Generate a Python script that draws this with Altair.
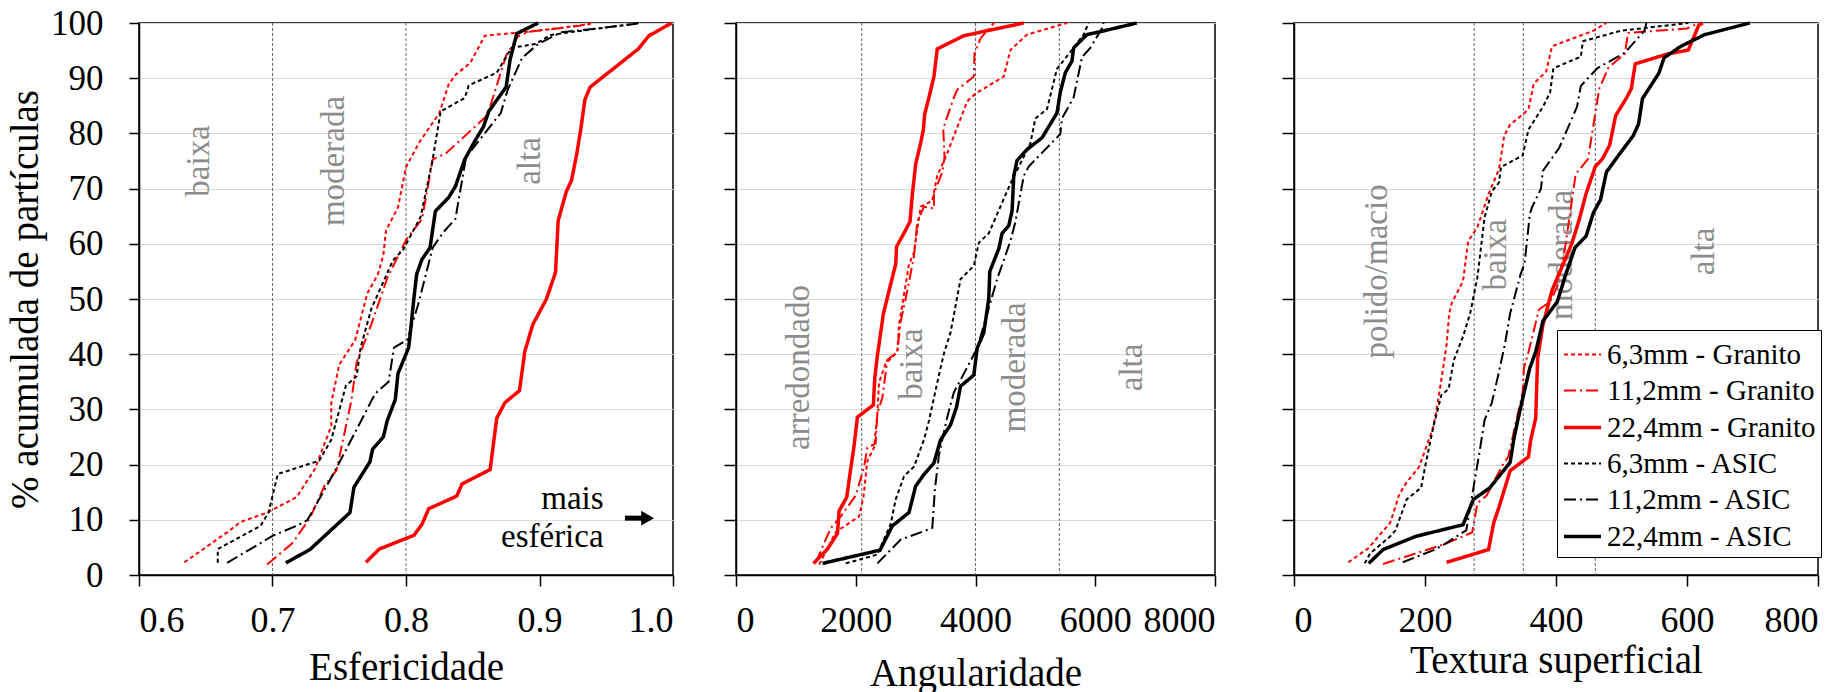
import altair as alt
import pandas as pd

FONT = "Liberation Serif"

SERIES = ["6,3mm - Granito", "11,2mm - Granito", "22,4mm - Granito",
          "6,3mm - ASIC", "11,2mm - ASIC", "22,4mm - ASIC"]
COLORS = ["#ff0000", "#ff0000", "#ff0000", "#000000", "#000000", "#000000"]
DASHES = [[4, 3], [12, 4, 2, 4], [1, 0], [4, 3], [12, 4, 2, 4], [1, 0]]
WIDTHS = [2, 2, 3.5, 2, 2, 3.5]

Y_TICKS = [0, 10, 20, 30, 40, 50, 60, 70, 80, 90, 100]

# ---------------- Esfericidade ----------------
esf_g63_x = [0.634, 0.667, 0.676, 0.696, 0.718, 0.732, 0.744, 0.744, 0.750, 0.762, 0.771, 0.779, 0.783, 0.785, 0.794, 0.800, 0.810, 0.825, 0.832, 0.837, 0.848, 0.859, 0.891, 0.935, 0.940]
esf_g63_y = [2.3, 7.9, 9.6, 11.3, 14.1, 19.3, 27.0, 31.2, 38.1, 42.6, 51.0, 54.5, 57.9, 62.4, 66.6, 73.9, 78.4, 83.7, 88.9, 90.6, 92.7, 97.7, 98.4, 99.7, 100]
esf_g112_x = [0.696, 0.715, 0.728, 0.739, 0.748, 0.759, 0.763, 0.774, 0.786, 0.800, 0.812, 0.820, 0.830, 0.861, 0.875, 0.884, 0.892, 0.930, 0.938]
esf_g112_y = [1.9, 5.8, 10.3, 16.2, 19.0, 31.5, 38.5, 45.4, 53.8, 60.7, 64.5, 75.3, 76.4, 83.3, 94.1, 97.6, 98.4, 99.5, 100]
esf_g224_x = [0.770, 0.780, 0.806, 0.812, 0.817, 0.838, 0.842, 0.863, 0.868, 0.874, 0.885, 0.889, 0.895, 0.905, 0.912, 0.914, 0.920, 0.924, 0.928, 0.931, 0.934, 0.938, 0.974, 0.982, 0.999]
esf_g224_y = [2.3, 4.7, 7.2, 9.2, 12.0, 14.3, 16.5, 19.1, 28.4, 31.2, 33.4, 40.5, 45.4, 49.9, 54.8, 64.2, 69.4, 71.5, 76.4, 80.9, 86.1, 88.4, 95.3, 97.7, 100]
esf_a63_x = [0.659, 0.659, 0.691, 0.697, 0.704, 0.735, 0.744, 0.755, 0.763, 0.766, 0.774, 0.790, 0.798, 0.811, 0.820, 0.826, 0.844, 0.847, 0.868, 0.879, 0.897, 0.908, 0.922, 0.975]
esf_a63_y = [2.2, 4.7, 8.9, 11.3, 18.3, 20.7, 24.5, 34.3, 36.0, 41.2, 48.2, 56.9, 59.0, 64.9, 75.3, 84.0, 86.4, 88.7, 91.0, 95.5, 96.2, 97.8, 98.3, 100]
esf_a112_x = [0.666, 0.701, 0.718, 0.726, 0.744, 0.762, 0.777, 0.787, 0.791, 0.801, 0.809, 0.820, 0.828, 0.837, 0.845, 0.856, 0.871, 0.876, 0.887, 0.899, 0.916, 0.943, 0.967, 0.975]
esf_a112_y = [2.2, 7.2, 8.9, 9.9, 17.6, 25.9, 32.9, 35.0, 41.2, 42.6, 48.9, 59.3, 62.1, 64.5, 75.7, 79.1, 83.7, 87.8, 93.7, 96.2, 98.3, 99.0, 99.7, 100]
esf_a224_x = [0.710, 0.728, 0.758, 0.761, 0.773, 0.775, 0.783, 0.786, 0.792, 0.794, 0.802, 0.803, 0.806, 0.808, 0.812, 0.818, 0.822, 0.832, 0.837, 0.844, 0.852, 0.858, 0.862, 0.875, 0.878, 0.883, 0.899]
esf_a224_y = [2.2, 4.6, 11.3, 15.9, 20.5, 22.8, 25.0, 28.0, 31.8, 36.5, 41.2, 43.3, 50.3, 54.5, 57.2, 59.3, 65.9, 68.4, 70.4, 75.3, 78.8, 81.2, 84.0, 88.4, 93.4, 98.1, 100]

# ---------------- Angularidade ----------------
ang_g63_x = [1389, 1667, 2056, 2128, 2194, 2306, 2361, 2389, 2500, 2694, 2722, 2806, 2889, 2972, 3083, 3278, 3361, 3528, 3861, 4000, 4472, 4583, 4861, 5528]
ang_g63_y = [1.9, 7.8, 10.6, 14.1, 20.7, 23.1, 29.3, 34.9, 38.3, 40.4, 45.3, 50.8, 56.3, 58.4, 66.7, 67.8, 72.3, 76.4, 85.8, 87.2, 90.3, 95.1, 97.9, 100]
ang_g112_x = [1333, 1583, 1750, 2000, 2139, 2194, 2333, 2361, 2444, 2528, 2694, 2750, 2861, 2972, 3028, 3139, 3306, 3306, 3444, 3483, 3461, 3639, 3694, 3972, 3983, 4083, 4306]
ang_g112_y = [2.3, 8.5, 10.6, 14.4, 19.6, 23.1, 23.8, 29.3, 32.1, 39.0, 40.4, 45.9, 51.5, 57.7, 64.0, 66.7, 66.4, 69.2, 72.9, 75.7, 80.9, 86.5, 87.9, 90.3, 94.5, 97.2, 100]
ang_g224_x = [1294, 1528, 1694, 1722, 1850, 1889, 1972, 2028, 2294, 2317, 2361, 2461, 2556, 2667, 2683, 2794, 2906, 2944, 3000, 3083, 3128, 3150, 3222, 3306, 3361, 3806, 4194, 4806]
ang_g224_y = [2.1, 4.7, 7.5, 11.6, 14.1, 17.2, 23.4, 28.6, 30.8, 35.6, 39.7, 47.3, 51.5, 56.3, 59.5, 61.7, 64.0, 68.8, 74.4, 78.2, 80.6, 83.4, 86.5, 90.3, 95.3, 97.7, 98.6, 100]
ang_a63_x = [1833, 2361, 2583, 2667, 2806, 2972, 3139, 3222, 3306, 3389, 3472, 3583, 3750, 3972, 4056, 4222, 4583, 4917, 5000, 5194, 5361, 5639, 5806, 5889]
ang_a63_y = [2.1, 3.7, 9.2, 13.7, 17.9, 19.6, 24.5, 27.9, 32.1, 36.2, 40.1, 43.9, 53.6, 56.0, 60.2, 61.9, 70.9, 78.2, 82.7, 84.4, 91.7, 95.5, 97.9, 100]
ang_a112_x = [2361, 2750, 3278, 3322, 3389, 3528, 3639, 3861, 4028, 4194, 4361, 4583, 4667, 4806, 4889, 5417, 5444, 5639, 5778, 5917, 6111, 6139]
ang_a112_y = [2.1, 6.4, 8.5, 15.5, 21.7, 28.6, 33.1, 37.6, 41.1, 47.3, 53.6, 60.5, 64.0, 72.3, 74.0, 79.9, 82.7, 86.5, 93.8, 95.5, 99.0, 100]
ang_a224_x = [1444, 2406, 2611, 2889, 3000, 3139, 3306, 3417, 3583, 3683, 3750, 3972, 4028, 4139, 4222, 4239, 4389, 4444, 4556, 4611, 4639, 4694, 4861, 5111, 5361, 5417, 5500, 5611, 5639, 5861, 6111, 6694]
ang_a224_y = [2.1, 4.5, 8.9, 11.3, 16.1, 18.2, 20.3, 24.5, 27.2, 30.4, 34.2, 36.2, 41.1, 43.9, 50.1, 55.0, 59.1, 61.9, 63.3, 66.0, 72.3, 75.1, 77.1, 79.2, 83.7, 87.5, 91.0, 93.1, 95.5, 97.9, 98.5, 100]

# ---------------- Textura superficial ----------------
tex_g63_x = [83, 114, 147, 161, 172, 191, 205, 213, 219, 225, 233, 237, 241, 258, 266, 280, 297, 313, 321, 330, 349, 358, 366, 385, 394, 457, 477]
tex_g63_y = [2.3, 4.9, 9.5, 14.7, 16.8, 19.6, 24.2, 27.0, 30.9, 35.4, 41.8, 47.4, 49.3, 53.2, 60.5, 63.0, 69.0, 73.5, 79.6, 81.6, 83.4, 84.4, 89.0, 91.2, 95.8, 98.6, 100]
tex_g112_x = [136, 230, 272, 280, 294, 319, 327, 341, 349, 351, 358, 374, 391, 402, 413, 430, 449, 457, 466, 480, 505, 510, 600, 618]
tex_g112_y = [2.0, 5.6, 7.7, 13.0, 14.4, 20.0, 21.4, 28.8, 33.0, 37.5, 40.4, 48.1, 49.5, 52.3, 58.6, 72.6, 75.4, 81.4, 88.1, 91.9, 94.4, 98.2, 99.0, 100]
tex_g224_x = [233, 297, 305, 313, 330, 358, 361, 369, 372, 380, 394, 424, 435, 446, 460, 471, 482, 491, 507, 515, 521, 571, 602, 618, 624]
tex_g224_y = [2.3, 4.6, 9.5, 12.3, 18.9, 21.4, 24.2, 28.4, 39.3, 45.3, 51.6, 60.0, 64.2, 69.1, 74.0, 75.4, 77.9, 83.2, 86.3, 88.1, 92.6, 94.4, 95.1, 99.6, 100]
tex_a63_x = [108, 116, 147, 155, 172, 194, 202, 213, 225, 236, 244, 258, 269, 280, 291, 302, 313, 316, 349, 358, 380, 391, 396, 438, 441, 499, 602]
tex_a63_y = [2.1, 3.9, 7.0, 8.1, 13.7, 15.8, 20.7, 27.0, 32.6, 33.7, 38.9, 43.2, 47.4, 53.9, 64.8, 69.5, 71.1, 73.9, 76.0, 80.7, 84.8, 87.4, 91.8, 93.9, 96.7, 98.6, 100]
tex_a112_x = [166, 213, 230, 263, 274, 283, 291, 302, 311, 322, 330, 346, 352, 360, 363, 377, 380, 405, 432, 438, 463, 505, 535, 538]
tex_a112_y = [2.3, 4.5, 5.6, 8.1, 15.8, 22.1, 28.1, 31.2, 35.8, 41.8, 47.4, 54.5, 56.4, 65.3, 66.5, 70.0, 73.2, 77.4, 84.8, 88.6, 91.8, 94.6, 98.6, 100]
tex_a224_x = [114, 136, 186, 258, 274, 299, 330, 335, 341, 349, 360, 369, 380, 402, 415, 429, 446, 457, 468, 477, 496, 518, 526, 532, 557, 565, 591, 627, 696]
tex_a224_y = [2.1, 4.6, 7.0, 9.1, 13.7, 15.8, 20.4, 24.2, 27.7, 31.9, 37.5, 40.4, 46.0, 49.5, 54.5, 59.3, 61.4, 65.6, 68.0, 73.0, 76.1, 79.6, 81.7, 86.3, 90.9, 93.7, 95.8, 97.9, 100]

# class limits and class labels
esf_limits = [0.7, 0.8]
esf_lbl_t = ["baixa", "moderada", "alta"]
esf_lbl_x = [0.645, 0.746, 0.893]
esf_lbl_y = [75, 75, 75]

ang_limits = [2100, 4000, 5400]
ang_lbl_t = ["arredondado", "baixa", "moderada", "alta"]
ang_lbl_x = [1056, 2944, 4667, 6611]
ang_lbl_y = [37.6, 38.2, 37.6, 37.6]

tex_limits = [275, 350, 460]
tex_lbl_t = ["polido/macio", "baixa", "moderada", "alta"]
tex_lbl_x = [127, 308, 409, 626]
tex_lbl_y = [55, 58, 58, 58.6]

# annotation "mais esférica"
note_t = ["mais", "esférica"]
note_x = [0.948, 0.948]
note_y = [12.0, 5.1]
arrow_x1 = [0.964]
arrow_x2 = [0.978]
arrow_y = [10.3]
head_x = [0.981]


def series_frame(xs, ys):
    rows = []
    for name, x, y in zip(SERIES, xs, ys):
        for i, (a, b) in enumerate(zip(x, y)):
            rows.append({"serie": name, "x": a, "y": b, "i": i})
    return pd.DataFrame(rows)


def panel(xs, ys, dom, ticks, fmt, xtitle, width, limits, lt, lx, ly,
          ytitle, legend, xtitle_pad, extra=None):
    df = series_frame(xs, ys)
    xsc = alt.Scale(domain=dom, nice=False, zero=False)
    ysc = alt.Scale(domain=[0, 100], nice=False)

    xaxis = alt.Axis(values=ticks, format=fmt, title=xtitle, grid=False,
                     labelFontSize=36, labelPadding=17, tickSize=11,
                     titlePadding=xtitle_pad)
    if ytitle is not None:
        yaxis = alt.Axis(values=Y_TICKS, labels=True, grid=True, title=ytitle,
                         labelFontSize=35, labelPadding=26, tickSize=10,
                         titlePadding=5)
    else:
        yaxis = alt.Axis(values=Y_TICKS, labels=False, grid=True, title=None,
                         tickSize=12)

    X = lambda f: alt.X(f, scale=xsc, axis=xaxis)
    Y = lambda f: alt.Y(f, scale=ysc, axis=yaxis)

    rules = alt.Chart(pd.DataFrame({"x": limits})).mark_rule(
        color="#666666", strokeWidth=1, strokeDash=[3, 2]
    ).encode(x=X("x:Q"))

    labels = alt.Chart(pd.DataFrame({"x": lx, "y": ly, "t": lt})).mark_text(
        angle=270, font=FONT, fontSize=33, color="#8c8c8c"
    ).encode(x=X("x:Q"), y=Y("y:Q"), text="t:N")

    lines = alt.Chart(df).mark_line(strokeJoin="miter", strokeCap="butt").encode(
        x=X("x:Q"),
        y=Y("y:Q"),
        color=alt.Color("serie:N", scale=alt.Scale(domain=SERIES, range=COLORS), legend=legend),
        strokeDash=alt.StrokeDash("serie:N", scale=alt.Scale(domain=SERIES, range=DASHES), legend=legend),
        strokeWidth=alt.StrokeWidth("serie:N", scale=alt.Scale(type="ordinal", domain=SERIES, range=WIDTHS), legend=legend),
        order=alt.Order("i:Q"),
    )
    layers = [rules, labels, lines]
    if extra is not None:
        layers += extra(X, Y)
    return alt.layer(*layers).properties(width=width, height=552)


def esf_extra(X, Y):
    note = alt.Chart(pd.DataFrame({"x": note_x, "y": note_y, "t": note_t})).mark_text(
        align="right", baseline="alphabetic", font=FONT, fontSize=33, color="black"
    ).encode(x=X("x:Q"), y=Y("y:Q"), text="t:N")
    arrow = alt.Chart(pd.DataFrame({"x": arrow_x1, "x2": arrow_x2, "y": arrow_y})).mark_rule(
        color="black", strokeWidth=5
    ).encode(x=X("x:Q"), x2="x2:Q", y=Y("y:Q"))
    head = alt.Chart(pd.DataFrame({"x": head_x, "y": arrow_y})).mark_point(
        shape="triangle-right", filled=True, color="black", size=220, opacity=1
    ).encode(x=X("x:Q"), y=Y("y:Q"))
    return [note, arrow, head]


legend = alt.Legend(
    title=None, orient="none", legendX=263, legendY=307,
    symbolType="stroke", symbolSize=1369, labelFont=FONT, labelFontSize=29,
    labelLimit=400, strokeColor="black", fillColor="white", padding=5,
    rowPadding=1, labelOffset=4, labelColor="black",
)

p1 = panel([esf_g63_x, esf_g112_x, esf_g224_x, esf_a63_x, esf_a112_x, esf_a224_x],
           [esf_g63_y, esf_g112_y, esf_g224_y, esf_a63_y, esf_a112_y, esf_a224_y],
           [0.6, 1.0], [0.6, 0.7, 0.8, 0.9, 1.0], ".1f", "Esfericidade", 534,
           esf_limits, esf_lbl_t, esf_lbl_x, esf_lbl_y,
           "% acumulada de partículas", None, 10, esf_extra)

p2 = panel([ang_g63_x, ang_g112_x, ang_g224_x, ang_a63_x, ang_a112_x, ang_a224_x],
           [ang_g63_y, ang_g112_y, ang_g224_y, ang_a63_y, ang_a112_y, ang_a224_y],
           [0, 8000], [0, 2000, 4000, 6000, 8000], "d", "Angularidade", 479,
           ang_limits, ang_lbl_t, ang_lbl_x, ang_lbl_y,
           None, None, 16)

p3 = panel([tex_g63_x, tex_g112_x, tex_g224_x, tex_a63_x, tex_a112_x, tex_a224_x],
           [tex_g63_y, tex_g112_y, tex_g224_y, tex_a63_y, tex_a112_y, tex_a224_y],
           [0, 800], [0, 200, 400, 600, 800], "d", "Textura superficial", 524,
           tex_limits, tex_lbl_t, tex_lbl_x, tex_lbl_y,
           None, legend, 3)


def spacer(w):
    return alt.Chart(pd.DataFrame({"v": [0]})).mark_point(opacity=0).encode(
        x=alt.X("v:Q", axis=None), y=alt.Y("v:Q", axis=None)
    ).properties(width=w, height=552, view=alt.ViewBackground(stroke="transparent"))


chart = alt.hconcat(p1, spacer(63), p2, spacer(79), p3, spacing=0, bounds="flush").resolve_scale(
    color="independent", strokeDash="independent", strokeWidth="independent"
).resolve_legend(
    color="independent", strokeDash="independent", strokeWidth="independent"
).properties(
    padding={"left": 5, "top": 5, "right": 5, "bottom": 5}
).configure(
    background="white"
).configure_view(
    stroke="black", strokeWidth=1.5
).configure_axis(
    labelFont=FONT, titleFont=FONT, labelColor="black", titleColor="black",
    titleFontSize=39, titleFontWeight="normal", domainColor="black",
    domainWidth=1.5, tickColor="black", tickWidth=1.5,
    gridColor="#d9d9d9", gridWidth=1,
)

chart.save("out.html", embed_options={"renderer": "svg", "actions": False})
